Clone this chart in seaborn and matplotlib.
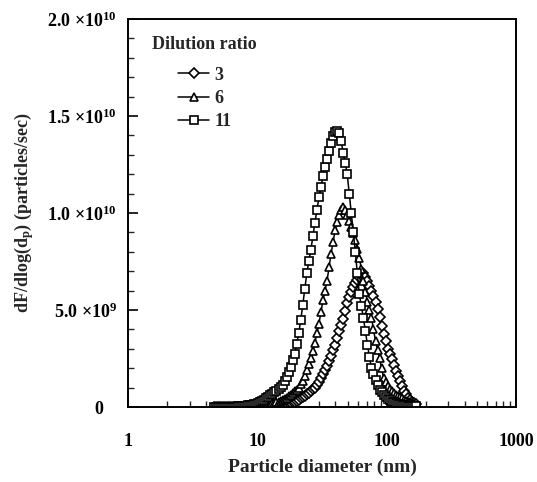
import numpy as np
import pandas as pd
import matplotlib
matplotlib.use("Agg")
import matplotlib.pyplot as plt
import seaborn as sns
from matplotlib.ticker import FixedLocator, MultipleLocator, NullFormatter, LogLocator

# Particle diameters (nm), 64 channels per decade
diameter = [4.61, 4.78, 4.95, 5.13, 5.32, 5.51, 5.72, 5.93, 6.15, 6.37,
            6.61, 6.85, 7.10, 7.36, 7.63, 7.91, 8.20, 8.50, 8.81, 9.13,
            9.47, 9.82, 10.17, 10.55, 10.93, 11.33, 11.75, 12.18, 12.62, 13.09,
            13.57, 14.06, 14.58, 15.11, 15.67, 16.24, 16.84, 17.46, 18.09, 18.76,
            19.45, 20.16, 20.89, 21.66, 22.45, 23.28, 24.13, 25.01, 25.93, 26.88,
            27.86, 28.88, 29.94, 31.04, 32.17, 33.35, 34.57, 35.84, 37.15, 38.51,
            39.92, 41.38, 42.90, 44.47, 46.10, 47.79, 49.54, 51.35, 53.23, 55.18,
            57.20, 59.30, 61.47, 63.72, 66.07, 68.48, 70.98, 73.58, 76.28, 79.07,
            81.97, 84.97, 88.10, 91.32, 94.67, 98.14, 101.7, 105.5, 109.3, 113.3,
            117.5, 121.8, 126.2, 130.9, 135.7, 140.6, 145.8, 151.1, 156.7, 162.4,
            168.3]

# dF/dlog(dp) in units of 1e9 particles/sec
ratio_3 = [0.0, 0.0, 0.0, 0.0, 0.0, 0.0, 0.0, 0.0, 0.0, 0.005,
           0.01, 0.01, 0.01, 0.01, 0.01, 0.01, 0.01, 0.015, 0.02, 0.02,
           0.02, 0.025, 0.03, 0.035, 0.04, 0.045, 0.05, 0.06, 0.07, 0.08,
           0.09, 0.10, 0.12, 0.13, 0.15, 0.16, 0.18, 0.20, 0.22, 0.25,
           0.28, 0.33, 0.38, 0.44, 0.50, 0.57, 0.65, 0.73, 0.82, 0.91,
           1.00, 1.15, 1.30, 1.50, 1.70, 1.90, 2.10, 2.37, 2.65, 2.92,
           3.20, 3.55, 3.90, 4.22, 4.55, 4.95, 5.35, 5.65, 5.95, 6.18,
           6.40, 6.55, 6.70, 6.82, 6.90, 6.72, 6.50, 6.25, 6.00, 5.70,
           5.40, 5.03, 4.65, 4.20, 3.75, 3.38, 3.00, 2.72, 2.45, 2.15,
           1.85, 1.60, 1.35, 1.10, 0.85, 0.65, 0.45, 0.36, 0.28, 0.21,
           0.15]
ratio_6 = [0.0, 0.0, 0.0, 0.0, 0.0, 0.0, 0.0, 0.0, 0.01, 0.01,
           0.01, 0.01, 0.01, 0.015, 0.02, 0.02, 0.02, 0.025, 0.03, 0.035,
           0.04, 0.05, 0.06, 0.075, 0.09, 0.10, 0.12, 0.14, 0.16, 0.19,
           0.22, 0.25, 0.28, 0.32, 0.36, 0.42, 0.48, 0.55, 0.62, 0.71,
           0.80, 0.90, 1.00, 1.17, 1.35, 1.60, 1.90, 2.20, 2.50, 2.90,
           3.30, 3.80, 4.30, 4.90, 5.50, 6.00, 6.50, 7.20, 7.90, 8.50,
           9.10, 9.55, 9.90, 10.15, 10.30, 10.15, 9.90, 9.60, 9.30, 8.95,
           8.60, 8.15, 7.70, 7.10, 6.50, 5.95, 5.40, 5.00, 4.60, 4.00,
           3.40, 2.95, 2.50, 2.00, 1.50, 1.30, 1.10, 0.95, 0.80, 0.70,
           0.60, 0.55, 0.50, 0.44, 0.38, 0.33, 0.28, 0.24, 0.20, 0.16,
           0.12]
ratio_11 = [0.0, 0.0, 0.0, 0.0, 0.01, 0.01, 0.01, 0.01, 0.01, 0.015,
            0.02, 0.025, 0.03, 0.04, 0.05, 0.06, 0.07, 0.085, 0.10, 0.12,
            0.15, 0.18, 0.22, 0.27, 0.32, 0.38, 0.45, 0.52, 0.60, 0.68,
            0.76, 0.84, 0.92, 1.03, 1.15, 1.35, 1.55, 1.80, 2.05, 2.40,
            2.75, 3.25, 3.80, 4.50, 5.25, 6.10, 6.90, 7.50, 8.10, 8.80,
            9.50, 10.15, 10.80, 11.35, 11.90, 12.35, 12.80, 13.20, 13.60, 13.95,
            14.20, 14.25, 14.10, 13.70, 13.10, 12.60, 12.00, 11.00, 10.00, 9.00,
            8.00, 6.90, 5.80, 5.20, 4.60, 3.90, 3.20, 2.60, 2.00, 1.70,
            1.40, 1.15, 0.90, 0.75, 0.60, 0.50, 0.40, 0.34, 0.28, 0.24,
            0.20, 0.17, 0.14, 0.12, 0.10, 0.085, 0.07, 0.06, 0.05, 0.04,
            0.03]

series_labels = ["3", "6", "11"]
series_values = [ratio_3, ratio_6, ratio_11]
series_markers = ["D", "^", "s"]

y_tick_values = [0, 5e9, 1e10, 1.5e10, 2e10]
y_tick_labels = ["0   ", r"5.0 $\times$10$^{9}$", r"1.0 $\times$10$^{10}$",
                 r"1.5 $\times$10$^{10}$", r"2.0 $\times$10$^{10}$"]
x_tick_values = [1, 10, 100, 1000]
x_tick_labels = ["1", "10", "100", "1000"]

sns.set_style("white")
plt.rcParams["font.family"] = ["Liberation Serif", "DejaVu Serif"]
plt.rcParams["font.weight"] = "bold"
plt.rcParams["mathtext.fontset"] = "custom"
plt.rcParams["mathtext.rm"] = "Liberation Serif:bold"
plt.rcParams["mathtext.it"] = "Liberation Serif:bold"
plt.rcParams["mathtext.bf"] = "Liberation Serif:bold"

fig = plt.figure(figsize=(5.37, 4.82), dpi=100)
ax = fig.add_axes([0.2384, 0.1556, 0.9609 - 0.2384, 0.9606 - 0.1556])

for lab, vals, mk in zip(series_labels, series_values, series_markers):
    df = pd.DataFrame({"d": diameter, "v": np.array(vals) * 1e9})
    ms = 5.0 if mk == "D" else 5.5
    sns.lineplot(data=df, x="d", y="v", ax=ax, color="black", linewidth=1.1,
                 marker=mk, markersize=ms, markerfacecolor="white",
                 markeredgecolor="black", markeredgewidth=1.2, label=lab)

ax.set_xscale("log")
ax.set_xlim(1, 1000)
ax.set_ylim(0, 2e10)

ax.xaxis.set_major_locator(FixedLocator(x_tick_values))
ax.set_xticklabels(x_tick_labels)
ax.xaxis.set_minor_locator(LogLocator(base=10, subs=np.arange(2, 10)))
ax.xaxis.set_minor_formatter(NullFormatter())
ax.yaxis.set_major_locator(FixedLocator(y_tick_values))
ax.set_yticklabels(y_tick_labels)
ax.yaxis.set_minor_locator(MultipleLocator(1e9))

ax.tick_params(axis="both", which="major", direction="in", length=7, width=1.2,
               labelsize=13, colors="black")
ax.tick_params(axis="both", which="minor", direction="in", length=4, width=1.0)
ax.tick_params(axis="x", which="both", bottom=True, top=False, pad=19)
ax.tick_params(axis="y", which="both", left=True, right=False, pad=8)
for t in ax.get_xticklabels() + ax.get_yticklabels():
    t.set_fontweight("bold")

for s in ax.spines.values():
    s.set_color("black")
    s.set_linewidth(1.4)

ax.set_xlabel("Particle diameter (nm)", fontsize=14, fontweight="bold", labelpad=6)
ax.set_ylabel(r"dF/dlog(d$_{p}$) (particles/sec)", fontsize=13,
              fontweight="bold", labelpad=8)

leg = ax.legend(title="Dilution ratio", loc="upper left",
                bbox_to_anchor=(0.035, 0.985), frameon=False, fontsize=13,
                title_fontsize=13, handlelength=1.7, handletextpad=0.3,
                labelspacing=0.35, borderaxespad=0.2)
leg.get_title().set_fontweight("bold")
leg._legend_box.sep = 10
for t in leg.get_texts():
    t.set_fontweight("bold")

fig.savefig("out.png", dpi=100)
